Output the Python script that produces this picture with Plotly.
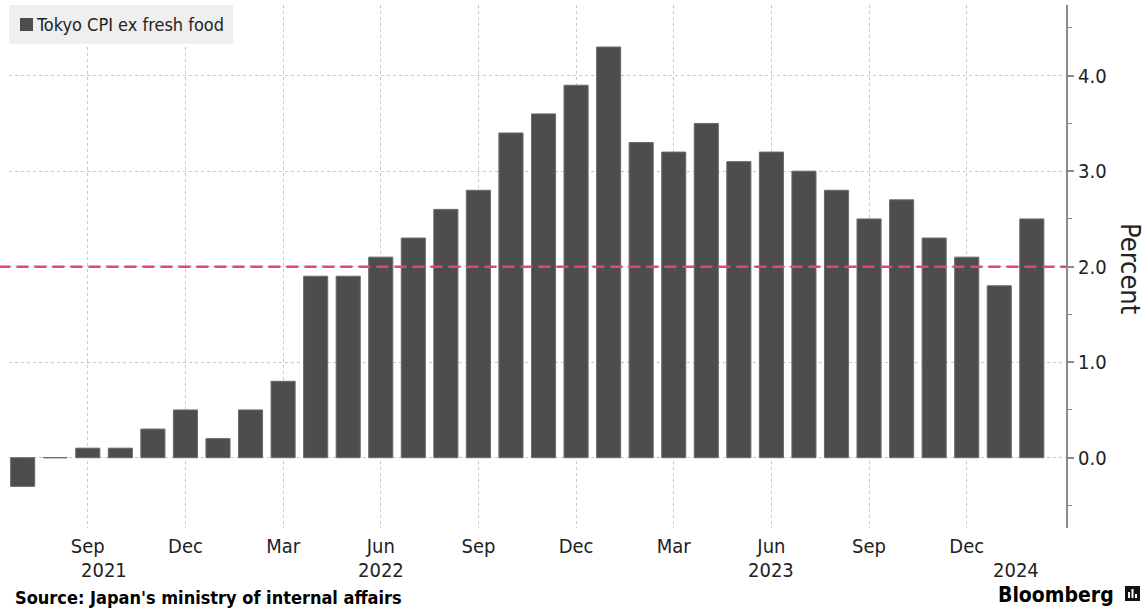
import plotly.graph_objects as go

# Tokyo core CPI (ex fresh food), year-on-year % change, Jul 2021 - Feb 2024
months = [
    "Jul 2021", "Aug 2021", "Sep 2021", "Oct 2021", "Nov 2021", "Dec 2021",
    "Jan 2022", "Feb 2022", "Mar 2022", "Apr 2022", "May 2022", "Jun 2022",
    "Jul 2022", "Aug 2022", "Sep 2022", "Oct 2022", "Nov 2022", "Dec 2022",
    "Jan 2023", "Feb 2023", "Mar 2023", "Apr 2023", "May 2023", "Jun 2023",
    "Jul 2023", "Aug 2023", "Sep 2023", "Oct 2023", "Nov 2023", "Dec 2023",
    "Jan 2024", "Feb 2024",
]
cpi = [
    -0.3, 0.0, 0.1, 0.1, 0.3, 0.5,
    0.2, 0.5, 0.8, 1.9, 1.9, 2.1,
    2.3, 2.6, 2.8, 3.4, 3.6, 3.9,
    4.3, 3.3, 3.2, 3.5, 3.1, 3.2,
    3.0, 2.8, 2.5, 2.7, 2.3, 2.1,
    1.8, 2.5,
]
target = 2.0

tick_months = ["Sep 2021", "Dec 2021", "Mar 2022", "Jun 2022", "Sep 2022",
               "Dec 2022", "Mar 2023", "Jun 2023", "Sep 2023", "Dec 2023"]
tick_text = ["Sep", "Dec", "Mar", "Jun", "Sep", "Dec", "Mar", "Jun", "Sep", "Dec"]

# year labels sit under the middle of each year's visible months
year_labels = ["2021", "2022", "2023", "2024"]
year_pos = [2.5, 11, 23, 30.5]

FONT = "DejaVu Sans Condensed, DejaVu Sans, sans-serif"
BAR = "#4d4d4d"
GRID = "#c8c8c8"

fig = go.Figure()
fig.add_trace(go.Bar(
    x=months, y=cpi, name="Tokyo CPI ex fresh food",
    marker=dict(color=BAR, line=dict(color="#6a6a6a", width=1)),
    showlegend=False,
))

fig.update_layout(
    width=1145, height=610,
    margin=dict(l=9, r=79, t=5, b=82),
    paper_bgcolor="white", plot_bgcolor="white",
    bargap=0.26,
    font=dict(family=FONT, color="#222222"),
    xaxis=dict(
        type="category",
        range=[-0.42, 32.05],
        tickmode="array", tickvals=tick_months, ticktext=tick_text,
        showgrid=True, gridcolor=GRID, griddash="dot", gridwidth=1,
        ticks="", showline=False, zeroline=False,
        ticklabelstandoff=4,
        tickfont=dict(size=20, family=FONT, color="#222222"),
    ),
    yaxis=dict(
        side="right",
        range=[-0.736, 4.74],
        tickmode="linear", tick0=0, dtick=1, tickformat=".1f",
        showgrid=True, gridcolor=GRID, griddash="dot", gridwidth=1,
        zeroline=False,
        showline=True, linecolor="#8a8a8a", linewidth=2,
        ticks="outside", ticklen=6, tickwidth=2, tickcolor="#8a8a8a",
        minor=dict(dtick=0.5, tick0=0, ticks="outside", ticklen=4,
                   tickwidth=1, tickcolor="#8a8a8a", showgrid=False),
        tickfont=dict(size=20, family=FONT, color="#222222"),
    ),
)

# 2% target line across the plot
fig.add_shape(type="line", xref="paper", yref="y", x0=-0.01, x1=1, y0=target, y1=target,
              line=dict(color="#e6466b", width=2.5, dash="12px,6px"), layer="above")

# legend box
fig.add_shape(type="rect", xref="paper", yref="paper",
              x0=0.0, x1=(233 - 9) / 1057, y0=1.0, y1=(528 - 44) / 523,
              fillcolor="#efefef", line=dict(width=0), layer="above")
fig.add_shape(type="rect", xref="paper", yref="paper",
              x0=(20 - 9) / 1057, x1=(33 - 9) / 1057,
              y0=(528 - 18) / 523, y1=(528 - 31) / 523,
              fillcolor=BAR, line=dict(width=0), layer="above")
fig.add_annotation(xref="paper", yref="paper", x=(34 - 9) / 1057, y=(528 - 25) / 523,
                   text="Tokyo CPI ex fresh food", showarrow=False,
                   xanchor="left", yanchor="middle",
                   font=dict(size=18, family=FONT, color="#222222"))

for label, pos in zip(year_labels, year_pos):
    fig.add_annotation(xref="x", yref="paper", x=pos, y=(528 - 570) / 523,
                       text=label, showarrow=False, xanchor="center", yanchor="middle",
                       font=dict(size=20, family=FONT, color="#222222"))

fig.add_annotation(xref="paper", yref="paper", x=(1131 - 9) / 1057, y=(528 - 268) / 523,
                   text="Percent", textangle=90, showarrow=False,
                   xanchor="center", yanchor="middle",
                   font=dict(size=27, family=FONT, color="#222222"))

fig.add_annotation(xref="paper", yref="paper", x=(13 - 9) / 1057, y=(528 - 597) / 523,
                   text="<b>Source: Japan's ministry of internal affairs</b>",
                   showarrow=False, xanchor="left", yanchor="middle",
                   font=dict(size=18, family=FONT, color="#000000"))

fig.add_annotation(xref="paper", yref="paper", x=(1116 - 9) / 1057, y=(528 - 595) / 523,
                   text="<b>Bloomberg</b>", showarrow=False,
                   xanchor="right", yanchor="middle",
                   font=dict(size=21, family=FONT, color="#000000"))

# small logo mark next to the wordmark
fig.add_shape(type="rect", xref="paper", yref="paper",
              x0=(1125 - 9) / 1057, x1=(1140 - 9) / 1057,
              y0=(528 - 601) / 523, y1=(528 - 586) / 523,
              fillcolor="#111111", line=dict(width=0), layer="above")
for bx, top in [(1129, 592), (1132.5, 589), (1136, 594)]:
    fig.add_shape(type="line", xref="paper", yref="paper",
                  x0=(bx - 9) / 1057, x1=(bx - 9) / 1057,
                  y0=(528 - 598) / 523, y1=(528 - top) / 523,
                  line=dict(color="white", width=2), layer="above")

fig.write_html("out.html")
